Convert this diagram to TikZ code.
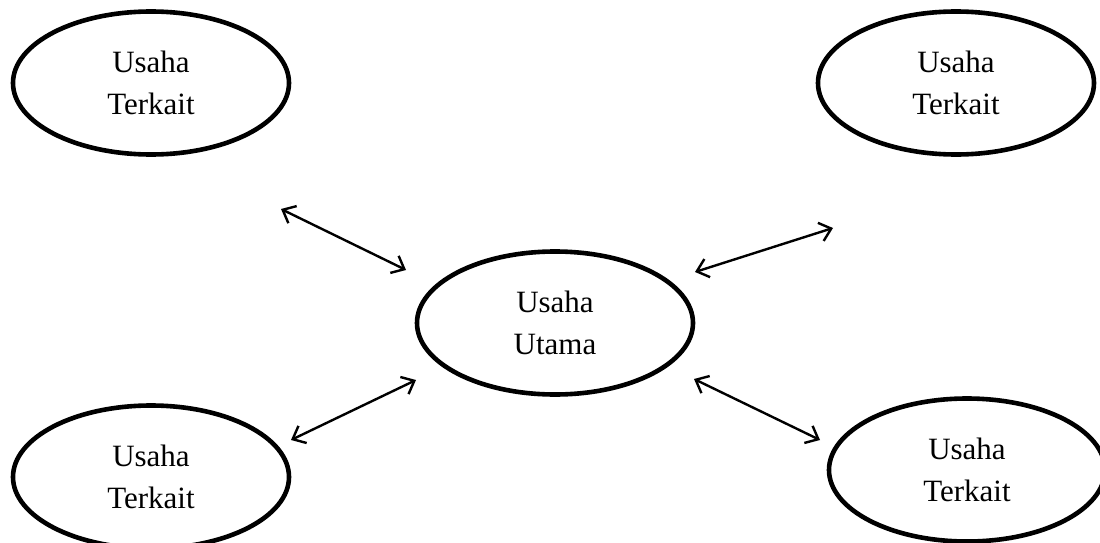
\documentclass[tikz,border=0pt]{standalone}
\usepackage{fontspec}
\setmainfont{Liberation Serif}
\usetikzlibrary{shapes.geometric,arrows.meta}
\tikzset{
  oval/.style={ellipse, draw=black, line width=4.6pt, minimum width=276pt, minimum height=143pt, inner sep=0pt, align=center, font=\fontsize{31pt}{42pt}\selectfont},
  link/.style={line width=2.4pt, {Straight Barb[length=11pt,width=19pt]}-{Straight Barb[length=11pt,width=19pt]}}
}
\begin{document}
\begin{tikzpicture}[x=1pt,y=-1pt]
\useasboundingbox (0,0) rectangle (1100,543);
\node[oval] (tl) at (151,83) {Usaha\\Terkait};
\node[oval] (tr) at (956,83) {Usaha\\Terkait};
\node[oval] (c) at (555,323) {Usaha\\Utama};
\node[oval] (bl) at (151,477) {Usaha\\Terkait};
\node[oval] (br) at (967,470) {Usaha\\Terkait};
\coordinate (a1s) at (281,209);
\coordinate (a1e) at (406,270);
\coordinate (a2s) at (695,272);
\coordinate (a2e) at (833,228);
\coordinate (a3s) at (291,440);
\coordinate (a3e) at (416,380);
\coordinate (a4s) at (694,379);
\coordinate (a4e) at (820,440);
\draw[link] (a1s) -- (a1e);
\draw[link] (a2s) -- (a2e);
\draw[link] (a3s) -- (a3e);
\draw[link] (a4s) -- (a4e);
\end{tikzpicture}
\end{document}
